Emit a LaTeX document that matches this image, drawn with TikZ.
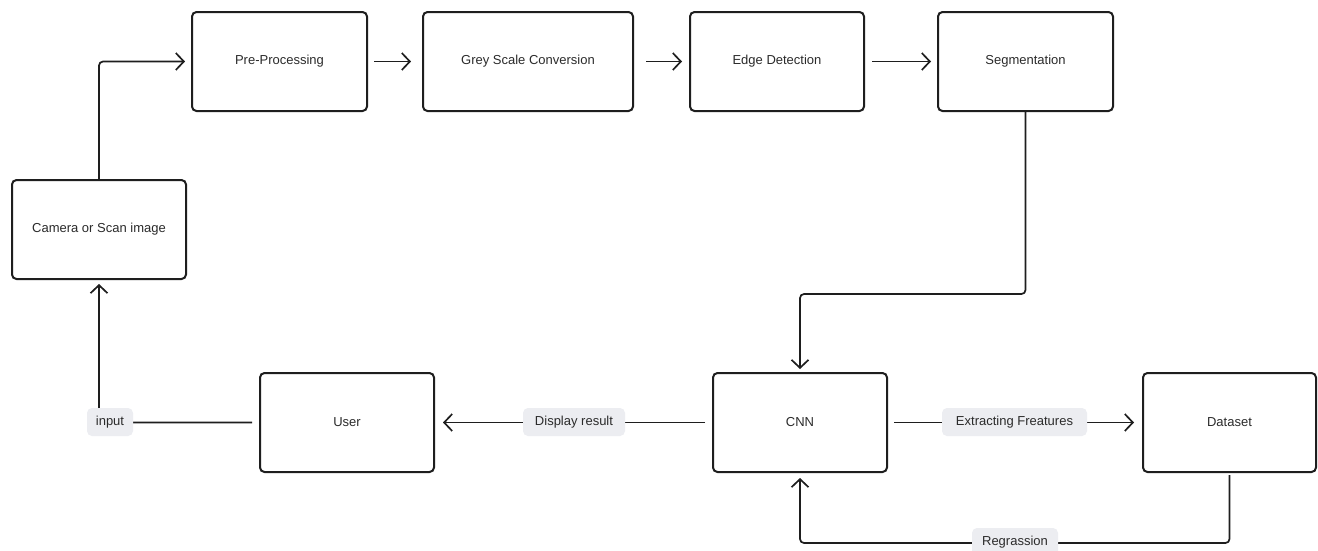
\documentclass[tikz,border=0pt]{standalone}
\usepackage{fontspec}
\setmainfont{Liberation Sans}
\usetikzlibrary{arrows.meta,calc}
\definecolor{ink}{HTML}{1E1E1E}
\definecolor{txt}{HTML}{2B2B2B}
\definecolor{pill}{HTML}{ECEDF1}
\tikzset{
  box/.style={draw=ink, line width=2pt, rounded corners=4.5pt, minimum height=99pt,
    text=txt, font=\fontsize{13}{15}\selectfont},
  conn/.style={draw=ink, line width=1.7pt, rounded corners=4pt,
    -{Straight Barb[length=8pt,width=17pt,line width=1.7pt]}},
  plain/.style={draw=ink, line width=1.7pt, rounded corners=4pt},
  lbl/.style={fill=pill, rounded corners=5pt, minimum height=28pt, inner xsep=0pt,
    text=txt, font=\fontsize{13}{15}\selectfont, sharp corners}
}
\begin{document}
\begin{tikzpicture}[x=1pt,y=-1pt]
\clip (0,0) rectangle (1318,550);
\fill[white] (0,0) rectangle (1318,550);
% boxes
\node[box, minimum width=175pt] (pre)  at (279.5,61.5) {Pre-Processing};
\node[box, minimum width=210pt] (grey) at (528,61.5) {Grey Scale Conversion};
\node[box, minimum width=174pt] (edge) at (777,61.5) {Edge Detection};
\node[box, minimum width=175pt] (seg)  at (1025.5,61.5) {Segmentation};
\node[box, minimum width=174pt] (cam)  at (99,229.5) {Camera or Scan image};
\node[box, minimum width=174pt] (user) at (347,422.5) {User};
\node[box, minimum width=174pt] (cnn)  at (800,422.5) {CNN};
\node[box, minimum width=173pt] (data) at (1229.5,422.5) {Dataset};
% connectors
\draw[conn, shorten >=6pt] (cam.north) |- (pre.west);
\draw[conn, shorten <=6pt, shorten >=11pt] (pre.east) -- (grey.west);
\draw[conn, shorten <=12pt, shorten >=7pt] (grey.east) -- (edge.west);
\draw[conn, shorten <=7pt, shorten >=6pt] (edge.east) -- (seg.west);
\draw[conn, shorten >=3pt] (seg.south) -- ($(seg.south)+(0,182)$) -| (cnn.north);
\draw[conn, shorten <=7pt, shorten >=8pt] (cnn.west) -- (user.east);
\draw[conn, shorten <=7pt, shorten >=4pt] (user.west) -| (cam.south);
\draw[conn, shorten <=6pt, shorten >=8pt] (cnn.east) -- (data.west);
\draw[conn, shorten <=2pt, shorten >=5pt] (data.south) -- ($(data.south)+(0,70)$) -| (cnn.south);
% labels
\node[lbl, minimum width=46pt, rounded corners=5pt] (lin) at (110,422) {input};
\node[lbl, minimum width=102pt, rounded corners=5pt] (ldisp) at (574,422) {Display result};
\node[lbl, minimum width=145pt, rounded corners=5pt] (lext) at (1014.5,422) {Extracting Freatures};
\node[lbl, minimum width=86pt, rounded corners=5pt] (lreg) at (1015,542) {Regrassion};
\end{tikzpicture}
\end{document}
